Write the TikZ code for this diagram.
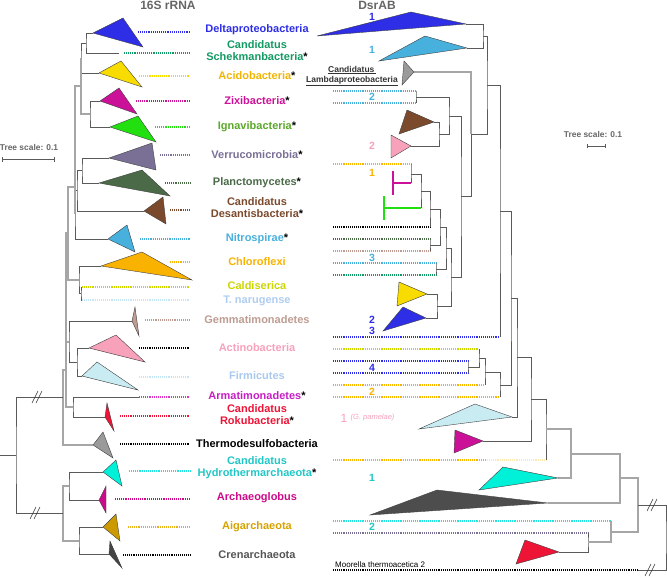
\documentclass[tikz,border=0pt]{standalone}
\usepackage{fontspec}
\setmainfont{Liberation Sans}
\usetikzlibrary{positioning,arrows.meta}

\definecolor{cDelta}{HTML}{2E2EE6}
\definecolor{cSchek}{HTML}{139A63}
\definecolor{cAcidoT}{HTML}{F8DC00}
\definecolor{cAcido}{HTML}{F2B400}
\definecolor{cZixi}{HTML}{CC1199}
\definecolor{cIgnaT}{HTML}{22E010}
\definecolor{cIgna}{HTML}{5AA828}
\definecolor{cVerr}{HTML}{7A7096}
\definecolor{cPlan}{HTML}{4B6B48}
\definecolor{cDesa}{HTML}{7B4A2D}
\definecolor{cNitr}{HTML}{48B0DC}
\definecolor{cChlo}{HTML}{F9B200}
\definecolor{cCald}{HTML}{CCD600}
\definecolor{cNaru}{HTML}{AFCDF0}
\definecolor{cNaruD}{HTML}{C4E6F6}
\definecolor{cGemm}{HTML}{BE9C92}
\definecolor{cActi}{HTML}{F7A1BA}
\definecolor{cFirmT}{HTML}{C8ECF2}
\definecolor{cFirm}{HTML}{A9C9EE}
\definecolor{cArma}{HTML}{C61EC4}
\definecolor{cArmaD}{HTML}{DD33CC}
\definecolor{cRoku}{HTML}{EE1436}
\definecolor{cTherT}{HTML}{9A9A9A}
\definecolor{cHydrT}{HTML}{00F0D8}
\definecolor{cHydr}{HTML}{22C6C6}
\definecolor{cHydrD}{HTML}{22E4E0}
\definecolor{cArch}{HTML}{CC0A8A}
\definecolor{cAigaT}{HTML}{CC9A00}
\definecolor{cAiga}{HTML}{D6A200}
\definecolor{cAigaD}{HTML}{E8B020}
\definecolor{cCren}{HTML}{444444}
\definecolor{cCrenL}{HTML}{555555}
\definecolor{cTitle}{HTML}{666666}
\definecolor{cBranch}{HTML}{5A5A5A}
\definecolor{cBranchL}{HTML}{A6A6A6}

\tikzset{
  branch/.style={draw=cBranch, line width=0.8pt},
  backbone/.style={draw=cBranchL, line width=1.4pt},
  clade/.style={draw=black!75, line width=0.4pt},
  flatclade/.style={line width=1.5pt},
  leafdots/.style={line width=1.4pt, dash pattern=on 1pt off 0.9pt},
  taxon/.style={font=\fontsize{11}{12}\selectfont\bfseries, align=center, inner sep=0pt},
  gene/.style={font=\fontsize{10.5}{11}\selectfont\bfseries, inner sep=0pt},
  scaletext/.style={font=\fontsize{8.4}{9}\selectfont\bfseries, text=cTitle, inner sep=0pt},
  title/.style={font=\fontsize{12}{13}\selectfont\bfseries, text=cTitle, inner sep=0pt},
  breakmark/.style={draw=black!80, line width=0.5pt},
}

\newcommand{\newstar}{\textcolor{black}{*}}

\begin{document}
\begin{tikzpicture}[x=1pt, y=-1pt]
  \useasboundingbox (0,0) rectangle (667,578);

  % titles
  \node[title] (hRNA) at (168,5) {16S rRNA};
  \node[title] (hDsr) at (377,5) {DsrAB};

  % tree scales
  \node[scaletext] (scL) at (29,147) {Tree scale: 0.1};
  \coordinate (sbL1) at (2,159);
  \coordinate (sbL2) at (55,159);
  \draw[branch, {Bar[width=5pt]}-{Bar[width=5pt]}] (sbL1) -- (sbL2);
  \node[scaletext] (scR) at (593,134) {Tree scale: 0.1};
  \coordinate (sbR1) at (587,146);
  \coordinate (sbR2) at (606,146);
  \draw[branch, {Bar[width=4pt]}-{Bar[width=4pt]}] (sbR1) -- (sbR2);

  % ---------------- 16S tree ----------------
  % leaves
  \coordinate (lDelta) at (93,33);
  \coordinate (lSchek) at (119,53);
  \coordinate (lAcido) at (99,73);
  \coordinate (lZixi) at (100,101);
  \coordinate (lIgna) at (110,127);
  \coordinate (lVerr) at (109,158);
  \coordinate (lPlan) at (99,183);
  \coordinate (lDesa) at (144,211);
  \coordinate (lNitr) at (108,239);
  \coordinate (lChlo) at (101,266);
  \coordinate (lCald) at (82,287);
  \coordinate (lNaru) at (82,300);
  \coordinate (lGemm) at (132,321);
  \coordinate (lActi) at (89,348);
  \coordinate (lFirm) at (82,376);
  \coordinate (lArma) at (139,397);
  \coordinate (lRoku) at (105,417);
  \coordinate (lTher) at (93,445);
  \coordinate (lHydr) at (103,472);
  \coordinate (lArch) at (99,500);
  \coordinate (lAiga) at (103,527);
  \coordinate (lCren) at (109,554);
  % inner nodes
  \coordinate (n1) at (86,43);
  \coordinate (n2) at (81,58);
  \coordinate (n3) at (90,114);
  \coordinate (n4) at (81,86);
  \coordinate (n5) at (82,170);
  \coordinate (n6) at (77,190);
  \coordinate (n7) at (75,214);
  \coordinate (n8) at (75,187);
  \coordinate (n9) at (81,293);
  \coordinate (n10) at (79,280);
  \coordinate (n11) at (68,233);
  \coordinate (n12) at (77,362);
  \coordinate (n13) at (69,342);
  \coordinate (n14) at (73,407);
  \coordinate (n15) at (66,288);
  \coordinate (n16) at (66,370);
  \coordinate (n17) at (63,397);
  \coordinate (a1) at (69,486);
  \coordinate (a2) at (79,541);
  \coordinate (a3) at (63,513);
  \coordinate (r0) at (16,455);
  \coordinate (rootL) at (0,455);

  \draw[branch] (lDelta) -| (n1) |- (lSchek);
  \draw[branch] (n1) -| (n2) |- (lAcido);
  \draw[branch] (lZixi) -| (n3) |- (lIgna);
  \draw[backbone] (n2) -| (n4) |- (n3);
  \draw[branch] (lVerr) -| (n5) |- (lPlan);
  \draw[branch] (n5) -| (n6) |- (lDesa);
  \draw[branch] (n6) -| (n7) |- (lNitr);
  \draw[backbone] (n4) -| (n8) |- (n7);
  \draw[branch] (lCald) -| (n9) |- (lNaru);
  \draw[branch] (lChlo) -| (n10) |- (n9);
  \draw[backbone] (n8) -| (n11) |- (n10);
  \draw[branch] (lActi) -| (n12) |- (lFirm);
  \draw[branch] (lGemm) -| (n13) |- (n12);
  \draw[branch] (lArma) -| (n14) |- (lRoku);
  \draw[backbone] (n11) -| (n15) |- (n13);
  \draw[backbone] (n15) -| (n16) |- (n14);
  \draw[backbone] (n16) -| (n17) |- (lTher);
  \draw[branch] (lHydr) -| (a1) |- (lArch);
  \draw[branch] (lAiga) -| (a2) |- (lCren);
  \draw[backbone] (a1) -| (a3) |- (a2);
  \draw[branch] (n17) -| (r0) |- (a3);
  \draw[branch] (rootL) -- (r0);

  % collapsed clades
  \draw[clade, fill=cDelta] (lDelta) -- (123,18) -- (143,47) -- cycle;
  \draw[clade, fill=cAcidoT] (lAcido) -- (121,61) -- (142,87) -- cycle;
  \draw[clade, fill=cZixi] (lZixi) -- (119,88) -- (137,114) -- cycle;
  \draw[clade, fill=cIgnaT] (lIgna) -- (138,116) -- (156,142) -- cycle;
  \draw[clade, fill=cVerr] (lVerr) -- (152,143) -- (156,170) -- cycle;
  \draw[clade, fill=cPlan] (lPlan) -- (142,170) -- (170,196) -- cycle;
  \draw[clade, fill=cDesa] (lDesa) -- (163,197) -- (166,224) -- cycle;
  \draw[clade, fill=cNitr] (lNitr) -- (127,225) -- (135,252) -- cycle;
  \draw[clade, fill=cChlo] (lChlo) -- (142,252) -- (192,280) -- cycle;
  \draw[clade, fill=cGemm] (lGemm) -- (135,307) -- (139,336) -- cycle;
  \draw[clade, fill=cActi] (lActi) -- (116,335) -- (145,362) -- cycle;
  \draw[clade, fill=cFirmT] (lFirm) -- (97,362) -- (138,390) -- cycle;
  \draw[clade, fill=cRoku] (lRoku) -- (107,403) -- (114,431) -- cycle;
  \draw[clade, fill=cTherT] (lTher) -- (103,432) -- (113,458) -- cycle;
  \draw[clade, fill=cHydrT] (lHydr) -- (116,460) -- (122,486) -- cycle;
  \draw[clade, fill=cArch] (lArch) -- (106,486) -- (106,513) -- cycle;
  \draw[clade, fill=cAigaT] (lAiga) -- (116,514) -- (120,541) -- cycle;
  \draw[clade, fill=cCren] (lCren) -- (110,541) -- (122,568) -- cycle;

  % dotted links to the names
  \coordinate (lEnd) at (190,0);
  \foreach \n/\xs/\y/\c in {dDelta/138/32/cDelta, dSchek/124/53/cSchek,
      dAcido/139/76/cAcidoT, dZixi/136/101/cZixi, dIgna/155/127/cIgnaT,
      dVerr/160/155/cVerr, dPlan/165/183/cPlan, dDesa/170/210/cDesa,
      dNitr/140/239/cNitr, dChlo/170/262/cChlo, dCald/82/287/cCald,
      dNaru/82/300/cNaruD, dGemm/145/320/cGemm, dActi/139/348/black,
      dFirm/139/377/cNaruD, dArma/139/397/cArmaD, dRoku/120/416/cRoku,
      dTher/120/444/black, dHydr/129/471/cHydrD, dArch/115/499/cArch,
      dAiga/128/527/cAigaD, dCren/123/555/black} {
    \coordinate (\n) at (\xs,\y);
    \draw[leafdots, draw=\c] (\n) -- (lEnd |- \n);
  }

  % names
  \node[taxon, text=cDelta] (tDelta) at (257,30) {Deltaproteobacteria};
  \node[taxon, text=cSchek] (tSchek) at (257,51) {Candidatus\\Schekmanbacteria\newstar};
  \node[taxon, text=cAcido] (tAcido) at (257,76) {Acidobacteria\newstar};
  \node[taxon, text=cZixi] (tZixi) at (257,101) {Zixibacteria\newstar};
  \node[taxon, text=cIgna] (tIgna) at (257,127) {Ignavibacteria\newstar};
  \node[taxon, text=cVerr] (tVerr) at (257,155) {Verrucomicrobia\newstar};
  \node[taxon, text=cPlan] (tPlan) at (257,183) {Planctomycetes\newstar};
  \node[taxon, text=cDesa] (tDesa) at (257,208) {Candidatus\\Desantisbacteria\newstar};
  \node[taxon, text=cNitr] (tNitr) at (257,239) {Nitrospirae\newstar};
  \node[taxon, text=cChlo] (tChlo) at (257,262) {Chloroflexi};
  \node[taxon, text=cCald] (tCald) at (257,286) {Caldiserica};
  \node[taxon, text=cNaru] (tNaru) at (257,301) {T. narugense};
  \node[taxon, text=cGemm] (tGemm) at (257,320) {Gemmatimonadetes};
  \node[taxon, text=cActi] (tActi) at (257,348) {Actinobacteria};
  \node[taxon, text=cFirm] (tFirm) at (257,376) {Firmicutes};
  \node[taxon, text=cArma] (tArma) at (257,396) {Armatimonadetes\newstar};
  \node[taxon, text=cRoku] (tRoku) at (257,415) {Candidatus\\Rokubacteria\newstar};
  \node[taxon, text=black] (tTher) at (257,444) {Thermodesulfobacteria};
  \node[taxon, text=cHydr] (tHydr) at (257,468) {Candidatus\\Hydrothermarchaeota\newstar};
  \node[taxon, text=cArch] (tArch) at (257,498) {Archaeoglobus};
  \node[taxon, text=cAiga] (tAiga) at (257,527) {Aigarchaeota};
  \node[taxon, text=cCrenL] (tCren) at (257,555) {Crenarchaeota};

  % ---------------- DsrAB tree ----------------
  % leaves
  \coordinate (rDelta) at (466,24);
  \coordinate (rSchek) at (467,48);
  \coordinate (rLamb) at (414,72);
  \coordinate (rLb2a) at (416,91);
  \coordinate (rLb2b) at (416,103);
  \coordinate (rBrown) at (434,122);
  \coordinate (rPink) at (411,146);
  \coordinate (rOr1) at (411,164);
  \coordinate (rMag) at (411,183);
  \coordinate (rGrn) at (421,208);
  \coordinate (rBlk) at (430,227);
  \coordinate (rDgr) at (430,239);
  \coordinate (rTau) at (430,251);
  \coordinate (rLb3) at (436,263);
  \coordinate (rGr3) at (436,275);
  \coordinate (rYel) at (427,294);
  \coordinate (rBlu) at (426,318);
  \coordinate (rBlu3) at (500,337);
  \coordinate (rYg) at (479,349);
  \coordinate (rB4a) at (468,361);
  \coordinate (rB4b) at (468,373);
  \coordinate (rOr2a) at (485,385);
  \coordinate (rOr2b) at (500,397);
  \coordinate (rFirm) at (512,417);
  \coordinate (rMag2) at (483,441);
  \coordinate (rOrF) at (546,460);
  \coordinate (rCyan) at (558,478);
  \coordinate (rDgray) at (548,503);
  \coordinate (rCy2) at (611,521);
  \coordinate (rPg) at (588,533);
  \coordinate (rRed) at (559,552);
  \coordinate (rMoor) at (638,570);
  % inner nodes
  \coordinate (s1) at (483,36);
  \coordinate (s2) at (416,97);
  \coordinate (s3) at (439,134);
  \coordinate (s4) at (449,116);
  \coordinate (s5) at (411,174);
  \coordinate (s6) at (421,191);
  \coordinate (s7) at (430,209);
  \coordinate (s8) at (430,245);
  \coordinate (s9) at (436,269);
  \coordinate (s10) at (440,227);
  \coordinate (s11) at (446,248);
  \coordinate (s12) at (437,306);
  \coordinate (s13) at (451,277);
  \coordinate (s14) at (461,196);
  \coordinate (s15) at (471,134);
  \coordinate (s16) at (487,85);
  \coordinate (s17) at (500,211);
  \coordinate (s18) at (468,367);
  \coordinate (s19) at (479,358);
  \coordinate (s20) at (485,372);
  \coordinate (s21) at (500,385);
  \coordinate (s22) at (511,298);
  \coordinate (s23) at (517,357);
  \coordinate (s24) at (531,399);
  \coordinate (s25) at (546,429);
  \coordinate (s26) at (571,454);
  \coordinate (s27) at (620,478);
  \coordinate (s28) at (588,542);
  \coordinate (s29) at (611,532);
  \coordinate (s30) at (638,505);
  \coordinate (rRoot) at (666,537);

  % dotted leaves
  \coordinate (rStart) at (333,0);
  \coordinate (rOrFade) at (487,460);
  \foreach \n/\c in {rLb2a/cNitr, rLb2b/cNitr, rOr1/cChlo, rBlk/black,
      rDgr/cPlan, rTau/cGemm, rLb3/cNitr, rGr3/cSchek, rBlu3/cDelta,
      rYg/cCald, rB4a/cDelta, rB4b/cDelta, rOr2a/cChlo, rOr2b/cChlo,
      rCy2/cHydrD, rPg/cVerr, rMoor/black}
    \draw[leafdots, draw=\c] (rStart |- \n) -- (\n);
  \draw[leafdots, draw=cChlo] (rStart |- rOrF) -- (rOrFade);
  \draw[leafdots, draw=cChlo!30] (rOrFade) -- (rOrF);

  \draw[branch] (rDelta) -| (s1) |- (rSchek);
  \draw[branch] (rLb2a) -| (s2) |- (rLb2b);
  \draw[branch] (rBrown) -| (s3) |- (rPink);
  \draw[branch] (s2) -| (s4) |- (s3);
  \draw[branch] (rOr1) -| (s5) |- (rMag);
  \draw[branch] (s5) -| (s6) |- (rGrn);
  \draw[branch] (s6) -| (s7) |- (rBlk);
  \draw[branch] (rDgr) -| (s8) |- (rTau);
  \draw[branch] (s7) -| (s10) |- (s8);
  \draw[branch] (rLb3) -| (s9) |- (rGr3);
  \draw[branch] (s10) -| (s11) |- (s9);
  \draw[branch] (rYel) -| (s12) |- (rBlu);
  \draw[branch] (s11) -| (s13) |- (s12);
  \draw[branch] (s4) -| (s14) |- (s13);
  \draw[backbone] (rLamb) -| (s15);
  \draw[branch] (s15) |- (s14);
  \draw[branch] (s1) -| (s16) |- (s15);
  \draw[branch] (s16) -| (s17) |- (rBlu3);
  \draw[branch] (rB4a) -| (s18) |- (rB4b);
  \draw[branch] (rYg) -| (s19) |- (s18);
  \draw[branch] (s19) -| (s20) |- (rOr2a);
  \draw[branch] (s20) -| (s21) |- (rOr2b);
  \draw[branch] (s17) -| (s22) |- (s21);
  \draw[branch] (s22) -| (s23) |- (rFirm);
  \draw[branch] (s23) -| (s24) |- (rMag2);
  \draw[branch] (s24) -| (s25) |- (rOrF);
  \draw[backbone] (s25) -| (s26) |- (rCyan);
  \draw[backbone] (s26) -| (s27) |- (rDgray);
  \draw[branch] (rPg) -| (s28) |- (rRed);
  \draw[backbone] (rCy2) -| (s29) |- (s28);
  \draw[backbone] (s27) -| (s30) |- (s29);
  \draw[branch] (s30) -| (rRoot) |- (rMoor);

  % collapsed clades
  \draw[clade, fill=cDelta] (rDelta) -- (411,12) -- (317,36) -- cycle;
  \draw[clade, fill=cNitr] (rSchek) -- (425,36) -- (379,61) -- cycle;
  \draw[clade, fill=cTherT] (rLamb) -- (404,61) -- (402,85) -- cycle;
  \draw[clade, fill=cDesa] (rBrown) -- (407,110) -- (399,134) -- cycle;
  \draw[clade, fill=cActi] (rPink) -- (391,135) -- (391,158) -- cycle;
  \draw[clade, fill=cAcidoT] (rYel) -- (399,282) -- (397,306) -- cycle;
  \draw[clade, fill=cDelta] (rBlu) -- (403,307) -- (383,331) -- cycle;
  \draw[clade, fill=cFirmT] (rFirm) -- (475,404) -- (419,429) -- cycle;
  \draw[clade, fill=cZixi] (rMag2) -- (455,430) -- (454,453) -- cycle;
  \draw[clade, fill=cHydrT] (rCyan) -- (503,467) -- (479,490) -- cycle;
  \draw[clade, draw=cCren, fill=cCren!95] (rDgray) -- (437,490) -- (370,515) -- cycle;
  \draw[clade, fill=cRoku] (rRed) -- (525,540) -- (516,564) -- cycle;
  \draw[flatclade, draw=cZixi] (rMag) -- (393,183) (393,171) -- (393,195);
  \draw[flatclade, draw=cIgnaT] (rGrn) -- (384,208) (384,196) -- (384,220);

  % DsrAB cluster numbers
  \node[gene, text=cDelta] (gDelta1) at (372,16.5) {1};
  \node[gene, text=cNitr] (gNitr1) at (372,50) {1};
  \node[gene, text=cNitr] (gNitr2) at (372,97) {2};
  \node[gene, text=cActi] (gActi2) at (372,146) {2};
  \node[gene, text=cChlo] (gChlo1) at (372,173) {1};
  \node[gene, text=cNitr] (gNitr3) at (372,258) {3};
  \node[gene, text=cDelta] (gDelta2) at (372,320) {2};
  \node[gene, text=cDelta] (gDelta3) at (372,331) {3};
  \node[gene, text=cDelta] (gDelta4) at (372,368) {4};
  \node[gene, text=cChlo] (gChlo2) at (372,392) {2};
  \node[gene, text=cActi, font=\fontsize{12}{13}\selectfont] (gActi1) at (344,418) {1};
  \node[font=\fontsize{7.5}{8}\selectfont\itshape, text=cActi, inner sep=0pt, right=3pt of gActi1] (gPam) {(G. pamelae)};
  \node[gene, text=cHydr] (gHydr1) at (372,478) {1};
  \node[gene, text=cHydr] (gHydr2) at (372,527) {2};
  \node[font=\fontsize{8.5}{10}\selectfont\bfseries, text=black!80, align=center, inner sep=0pt] (tLamb) at (352,76) {\underline{Candidatus\,}\\\underline{Lambdaproteobacteria}};
  \node[font=\fontsize{8}{9}\selectfont, anchor=base west, inner sep=0pt] (tMoor) at (335,567) {Moorella thermoacetica 2};

  % axis breaks
  \foreach \bx/\by in {37/397, 35/513, 652/505, 650/570}
    \draw[breakmark] (\bx-5,\by+6) -- (\bx+1,\by-6) (\bx-1,\by+6) -- (\bx+5,\by-6);
\end{tikzpicture}
\end{document}
